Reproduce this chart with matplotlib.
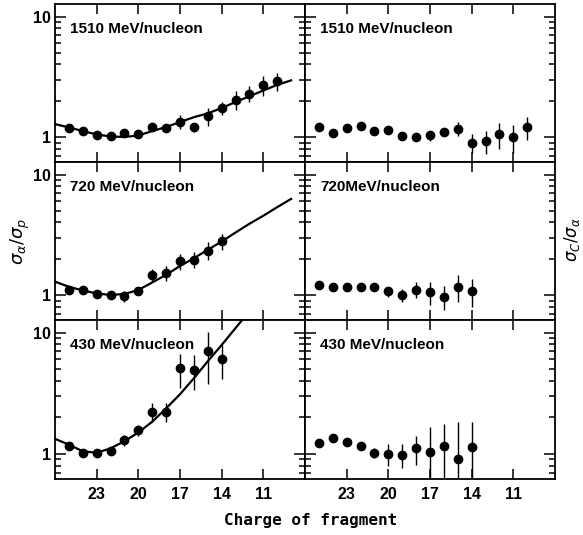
import matplotlib
matplotlib.use("Agg")
import matplotlib.pyplot as plt
from matplotlib.ticker import FixedLocator, NullLocator, LogLocator, NullFormatter

# ---------------- data ----------------
charges16 = [25, 24, 23, 22, 21, 20, 19, 18, 17, 16, 15, 14, 13, 12, 11, 10]
charges12 = [25, 24, 23, 22, 21, 20, 19, 18, 17, 16, 15, 14]
curve_charges = [26, 25, 24, 23, 22, 21, 20, 19, 18, 17, 16, 15, 14, 13, 12, 11, 10, 9]

# 1510 MeV/nucleon
ap_1510 = [1.18, 1.12, 1.03, 1.01, 1.07, 1.05, 1.20, 1.18, 1.34, 1.21, 1.48, 1.74, 2.04, 2.29, 2.70, 2.92]
ap_1510_err = [0.03, 0.03, 0.03, 0.04, 0.05, 0.05, 0.07, 0.08, 0.17, 0.10, 0.25, 0.22, 0.35, 0.35, 0.50, 0.50]
ca_1510 = [1.21, 1.07, 1.19, 1.23, 1.12, 1.14, 1.01, 1.00, 1.03, 1.11, 1.17, 0.90, 0.92, 1.05, 1.00, 1.20]
ca_1510_err = [0.03, 0.03, 0.03, 0.03, 0.05, 0.05, 0.07, 0.08, 0.10, 0.08, 0.15, 0.16, 0.20, 0.25, 0.26, 0.26]
curve_1510 = [1.28, 1.20, 1.12, 1.05, 1.01, 1.00, 1.03, 1.12, 1.21, 1.33, 1.46, 1.57, 1.74, 1.95, 2.18, 2.43, 2.71, 2.95]

# 720 MeV/nucleon
ap_720 = [1.09, 1.11, 1.02, 1.00, 0.98, 1.08, 1.47, 1.53, 1.90, 1.96, 2.34, 2.78]
ap_720_err = [0.04, 0.04, 0.04, 0.05, 0.10, 0.08, 0.18, 0.22, 0.28, 0.30, 0.40, 0.40]
ca_720 = [1.21, 1.17, 1.16, 1.16, 1.17, 1.07, 1.00, 1.11, 1.05, 0.97, 1.17, 1.07]
ca_720_err = [0.03, 0.03, 0.03, 0.03, 0.04, 0.10, 0.12, 0.17, 0.22, 0.22, 0.30, 0.28]
curve_720 = [1.29, 1.17, 1.09, 1.03, 1.00, 1.02, 1.10, 1.27, 1.47, 1.74, 2.02, 2.37, 2.78, 3.30, 3.90, 4.55, 5.36, 6.27]

# 430 MeV/nucleon
ap_430 = [1.17, 1.01, 1.02, 1.05, 1.29, 1.56, 2.22, 2.22, 5.10, 4.95, 7.00, 6.07]
ap_430_err = [0.03, 0.03, 0.03, 0.06, 0.14, 0.17, 0.40, 0.40, 1.60, 1.60, 3.20, 1.90]
ca_430 = [1.22, 1.35, 1.26, 1.17, 1.02, 1.00, 0.98, 1.11, 1.03, 1.17, 0.91, 1.13]
ca_430_err = [0.03, 0.03, 0.03, 0.03, 0.09, 0.20, 0.22, 0.30, 0.63, 0.60, 0.93, 0.69]
curve_430 = [1.33, 1.19, 1.05, 1.02, 1.11, 1.27, 1.50, 1.84, 2.37, 3.10, 4.20, 5.80, 7.90, 10.9, 15.0, 20.0, 26.0, 34.0]

left_titles = ["1510 MeV/nucleon", "720 MeV/nucleon", "430 MeV/nucleon"]
right_titles = ["1510 MeV/nucleon", "720MeV/nucleon", "430 MeV/nucleon"]
x_ticks = [23, 20, 17, 14, 11]
x_tick_labels = ["23", "20", "17", "14", "11"]
y_ticks = [1, 10]
y_tick_labels = ["1", "10"]

left_data = [(charges16, ap_1510, ap_1510_err, curve_1510),
             (charges12, ap_720, ap_720_err, curve_720),
             (charges12, ap_430, ap_430_err, curve_430)]
right_data = [(charges16, ca_1510, ca_1510_err),
              (charges12, ca_720, ca_720_err),
              (charges12, ca_430, ca_430_err)]

# ---------------- figure ----------------
W, H = 583, 535
fig = plt.figure(figsize=(W / 100, H / 100), dpi=100)

fam = ["Liberation Sans", "DejaVu Sans"]

col_x = [55, 305]
col_w = 250
row_top = [4, 162, 320]
row_h = [158, 158, 159]


def style_axis(ax, bottom_labels, left_labels):
    ax.set_yscale("log")
    ax.set_xlim(26, 8)
    ax.set_ylim(0.62, 12.7)
    ax.xaxis.set_major_locator(FixedLocator(x_ticks))
    ax.xaxis.set_minor_locator(NullLocator())
    ax.yaxis.set_major_locator(FixedLocator(y_ticks))
    ax.yaxis.set_minor_locator(LogLocator(base=10, subs=[2, 3, 4, 5, 6, 7, 8, 9]))
    ax.yaxis.set_minor_formatter(NullFormatter())
    ax.set_yticklabels(y_tick_labels if left_labels else [])
    ax.set_xticklabels(x_tick_labels if bottom_labels else [])
    ax.tick_params(which="both", direction="in", top=True, right=True,
                   bottom=True, left=True, width=1.1, colors="black")
    ax.tick_params(axis="x", which="major", length=7, pad=6)
    ax.tick_params(axis="y", which="major", length=8, pad=3)
    ax.tick_params(axis="y", which="minor", length=4.5)
    for lab in ax.get_xticklabels() + ax.get_yticklabels():
        lab.set_family(fam)
        lab.set_fontweight("bold")
        lab.set_fontsize(11.5)
    for sp in ax.spines.values():
        sp.set_linewidth(1.3)


for r in range(3):
    y0 = 1 - (row_top[r] + row_h[r]) / H
    hh = row_h[r] / H
    # left panel
    axl = fig.add_axes([col_x[0] / W, y0, col_w / W, hh])
    ch, v, e, cv = left_data[r]
    axl.plot(curve_charges, cv, color="black", lw=1.6, zorder=2)
    axl.errorbar(ch, v, yerr=e, fmt="o", color="black", ms=6, elinewidth=1.0,
                 capsize=0, zorder=3)
    style_axis(axl, bottom_labels=(r == 2), left_labels=True)
    axl.text(0.06, 0.84, left_titles[r], transform=axl.transAxes, ha="left",
             va="center", fontsize=11, fontweight="bold", family=fam)
    # right panel
    axr = fig.add_axes([col_x[1] / W, y0, col_w / W, hh])
    ch, v, e = right_data[r]
    axr.errorbar(ch, v, yerr=e, fmt="o", color="black", ms=6, elinewidth=1.0,
                 capsize=0, zorder=3)
    style_axis(axr, bottom_labels=(r == 2), left_labels=False)
    axr.text(0.06, 0.84, right_titles[r], transform=axr.transAxes,
             ha="left", va="center", fontsize=11, fontweight="bold", family=fam)

fig.text(20 / W, 1 - 241 / H, r"$\sigma_\alpha/\sigma_p$", rotation=90,
         ha="center", va="center", fontsize=13)
fig.text(572 / W, 1 - 240 / H, r"$\sigma_C/\sigma_\alpha$", rotation=90,
         ha="center", va="center", fontsize=12)
fig.text(311 / W, 1 - 520 / H, "Charge of fragment", ha="center", va="center",
         fontsize=11.5, fontweight="bold", family=["DejaVu Sans Mono"])

fig.savefig("out.png", dpi=100)
